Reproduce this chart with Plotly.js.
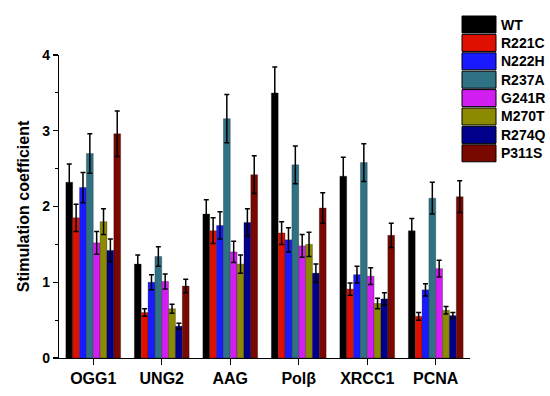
<!DOCTYPE html>
<html>
<head>
<meta charset="utf-8">
<script src="https://cdn.plot.ly/plotly-3.0.1.min.js"></script>
<style>html,body{margin:0;padding:0;background:#fff;}#chart{width:550px;height:396px;}</style>
</head>
<body>
<div id="chart"></div>
<script>
const categories = ["OGG1", "UNG2", "AAG", "Polβ", "XRCC1", "PCNA"];
const seriesNames = ["WT", "R221C", "N222H", "R237A", "G241R", "M270T", "R274Q", "P311S"];
const seriesColors = ["#000000", "#e01000", "#1a1aff", "#2f7283", "#d21ef0", "#8c8a00", "#00008a", "#780800"];

const WT     = [2.32, 1.24, 1.90, 3.50, 2.40, 1.68];
const R221C  = [1.85, 0.60, 1.68, 1.65, 0.91, 0.55];
const N222H  = [2.25, 1.00, 1.75, 1.56, 1.10, 0.90];
const R237A  = [2.70, 1.34, 3.16, 2.55, 2.58, 2.11];
const G241R  = [1.52, 1.01, 1.40, 1.48, 1.08, 1.18];
const M270T  = [1.80, 0.65, 1.24, 1.50, 0.72, 0.63];
const R274Q  = [1.42, 0.42, 1.79, 1.12, 0.78, 0.56];
const P311S  = [2.96, 0.95, 2.42, 1.98, 1.62, 2.13];

const WT_err    = [0.24, 0.12, 0.19, 0.34, 0.25, 0.16];
const R221C_err = [0.18, 0.05, 0.17, 0.15, 0.08, 0.05];
const N222H_err = [0.20, 0.10, 0.18, 0.16, 0.11, 0.08];
const R237A_err = [0.26, 0.13, 0.32, 0.25, 0.25, 0.21];
const G241R_err = [0.15, 0.10, 0.14, 0.15, 0.11, 0.11];
const M270T_err = [0.17, 0.06, 0.12, 0.16, 0.07, 0.05];
const R274Q_err = [0.15, 0.04, 0.18, 0.12, 0.08, 0.04];
const P311S_err = [0.30, 0.09, 0.25, 0.20, 0.16, 0.21];

const values = [WT, R221C, N222H, R237A, G241R, M270T, R274Q, P311S];
const errors = [WT_err, R221C_err, N222H_err, R237A_err, G241R_err, M270T_err, R274Q_err, P311S_err];

const FONT = "Liberation Sans, Arial, sans-serif";

const traces = seriesNames.map((name, i) => ({
  type: "bar",
  name: name,
  x: categories,
  y: values[i],
  marker: {color: seriesColors[i], line: {color: "rgba(0,0,0,0.5)", width: 0.5}},
  error_y: {type: "data", array: errors[i], visible: true, color: "#000", thickness: 1.5, width: 2.5},
  showlegend: false
}));

// Manual legend with large swatches (paper coordinates)
const plotL = 59, plotR = 470, plotT = 55, plotB = 358;
const pw = plotR - plotL, ph = plotB - plotT;
const px2x = p => (p - plotL) / pw;
const px2y = p => (plotB - p) / ph;
const shapes = [];
const annotations = [];
seriesNames.forEach((name, i) => {
  const top = 16 + i * 18.4;
  const bot = top + 17;
  shapes.push({type: "rect", xref: "paper", yref: "paper",
    x0: px2x(462), x1: px2x(496), y0: px2y(bot), y1: px2y(top),
    fillcolor: seriesColors[i], line: {color: "#000", width: 1}});
  annotations.push({xref: "paper", yref: "paper", x: px2x(499), y: px2y((top + bot) / 2),
    xanchor: "left", yanchor: "middle", text: name, showarrow: false,
    font: {family: FONT, size: 14, color: "#000", weight: "bold"}});
});

const layout = {
  width: 550, height: 396,
  margin: {l: plotL, r: 550 - plotR, t: plotT, b: 396 - plotB},
  paper_bgcolor: "#fff", plot_bgcolor: "#fff",
  barmode: "group", bargap: 0.2, bargroupgap: 0,
  showlegend: false,
  font: {family: FONT, color: "#000"},
  xaxis: {
    showline: true, linecolor: "#000", linewidth: 1.2,
    ticks: "outside", ticklen: 6, tickcolor: "#000", tickwidth: 1.2,
    tickfont: {family: FONT, size: 16, color: "#000", weight: "bold"},
    showgrid: false, zeroline: false
  },
  yaxis: {
    range: [0, 4], showline: true, linecolor: "#000", linewidth: 1.2,
    ticks: "outside", ticklen: 5, tickcolor: "#000", tickwidth: 1.2,
    tickvals: [0, 1, 2, 3, 4],
    minor: {tickvals: [0.5, 1.5, 2.5, 3.5], ticks: "outside", ticklen: 3, tickcolor: "#000", tickwidth: 1.2},
    tickfont: {family: FONT, size: 14, color: "#000", weight: "bold"},
    showgrid: false, zeroline: false,
    title: {text: "Stimulation coefficient", font: {family: FONT, size: 16, color: "#000", weight: "bold"}, standoff: 8}
  },
  shapes: shapes,
  annotations: annotations
};

Plotly.newPlot("chart", traces, layout, {displayModeBar: false, staticPlot: true});
</script>
</body>
</html>
